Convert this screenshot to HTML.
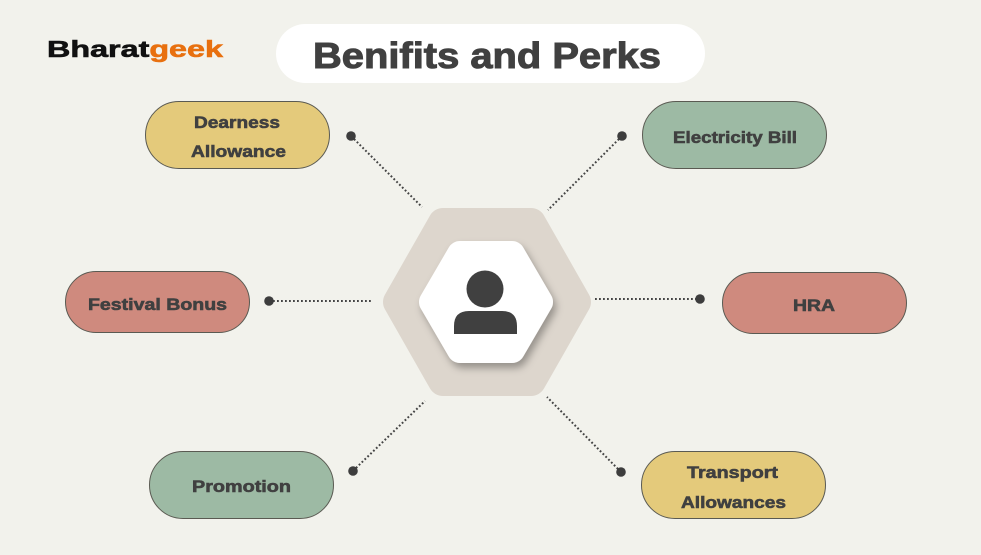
<!DOCTYPE html>
<html>
<head>
<meta charset="utf-8">
<style>
  html, body { margin:0; padding:0; background:#f2f2ec; }
  svg { display:block; }
  text { font-family: "Liberation Sans", "DejaVu Sans", sans-serif; font-weight:bold; }
</style>
</head>
<body>
<svg width="981" height="555" viewBox="0 0 981 555" xmlns="http://www.w3.org/2000/svg">
  <defs>
    <filter id="sh" x="-30%" y="-30%" width="160%" height="160%">
      <feDropShadow dx="3" dy="5" stdDeviation="4" flood-color="#000" flood-opacity="0.32"/>
    </filter>
  </defs>
  <rect width="981" height="555" fill="#f2f2ec"/>

  <!-- Logo -->
  <text x="47" y="57" font-size="23" textLength="176" lengthAdjust="spacingAndGlyphs" stroke-width="0.6"><tspan fill="#111" stroke="#111">Bharat</tspan><tspan fill="#e8700f" stroke="#e8700f">geek</tspan></text>

  <!-- Title pill -->
  <rect x="276" y="24" width="429" height="59" rx="29.5" fill="#ffffff"/>
  <text x="313" y="68" font-size="36" fill="#404040" stroke="#404040" stroke-width="1" textLength="348" lengthAdjust="spacingAndGlyphs">Benifits and Perks</text>

  <!-- Connectors -->
  <g stroke="#444" stroke-width="2" stroke-dasharray="1.8 2.2" fill="none">
    <line x1="354" y1="139" x2="422" y2="207"/>
    <line x1="619" y1="139" x2="548" y2="210"/>
    <line x1="273" y1="301" x2="372" y2="301"/>
    <line x1="595" y1="299" x2="696" y2="299"/>
    <line x1="356" y1="468" x2="425" y2="401"/>
    <line x1="618" y1="469" x2="547" y2="397"/>
  </g>
  <g fill="#3d3d3d">
    <circle cx="351" cy="136" r="4.8"/>
    <circle cx="622" cy="136" r="4.8"/>
    <circle cx="269" cy="301" r="4.8"/>
    <circle cx="700" cy="299" r="4.8"/>
    <circle cx="353" cy="471" r="4.8"/>
    <circle cx="621" cy="472" r="4.8"/>
  </g>

  <!-- Outer hexagon -->
  <polygon points="398,302 443,223 531,223 576,302 531,381 443,381" fill="#ddd6cd" stroke="#ddd6cd" stroke-width="30" stroke-linejoin="round"/>
  <!-- Inner white hexagon -->
  <g filter="url(#sh)">
    <polygon points="432,302 460,254 512,254 540,302 512,350 460,350" fill="#ffffff" stroke="#ffffff" stroke-width="26" stroke-linejoin="round"/>
  </g>
  <!-- Person icon -->
  <circle cx="485" cy="289" r="18.5" fill="#404040"/>
  <path d="M454,334 L454,326 Q454,311 469,311 L502,311 Q517,311 517,326 L517,334 Z" fill="#404040"/>

  <!-- Pills -->
  <g stroke="#5a5a52" stroke-width="1">
    <rect x="145.5" y="101.5" width="184" height="67" rx="33.5" fill="#e4ca7b"/>
    <rect x="642.5" y="101.5" width="184" height="67" rx="33.5" fill="#9dbaa4"/>
    <rect x="65.5" y="271.5" width="184" height="61" rx="30.5" fill="#cf8a7e"/>
    <rect x="722.5" y="272.5" width="184" height="61" rx="30.5" fill="#cf8a7e"/>
    <rect x="149.5" y="451.5" width="184" height="67" rx="33.5" fill="#9dbaa4"/>
    <rect x="641.5" y="451.5" width="184" height="67" rx="33.5" fill="#e4ca7b"/>
  </g>

  <!-- Labels -->
  <g fill="#404040" stroke="#404040" stroke-width="0.6" font-size="17">
    <text x="194" y="128" textLength="86" lengthAdjust="spacingAndGlyphs">Dearness</text>
    <text x="191" y="157" textLength="95" lengthAdjust="spacingAndGlyphs">Allowance</text>
    <text x="673" y="143" textLength="124" lengthAdjust="spacingAndGlyphs">Electricity Bill</text>
    <text x="88" y="310" textLength="139" lengthAdjust="spacingAndGlyphs">Festival Bonus</text>
    <text x="793" y="311" textLength="42" lengthAdjust="spacingAndGlyphs">HRA</text>
    <text x="192" y="492" textLength="99" lengthAdjust="spacingAndGlyphs">Promotion</text>
    <text x="687" y="478" textLength="91" lengthAdjust="spacingAndGlyphs">Transport</text>
    <text x="681" y="508" textLength="105" lengthAdjust="spacingAndGlyphs">Allowances</text>
  </g>
</svg>
</body>
</html>
